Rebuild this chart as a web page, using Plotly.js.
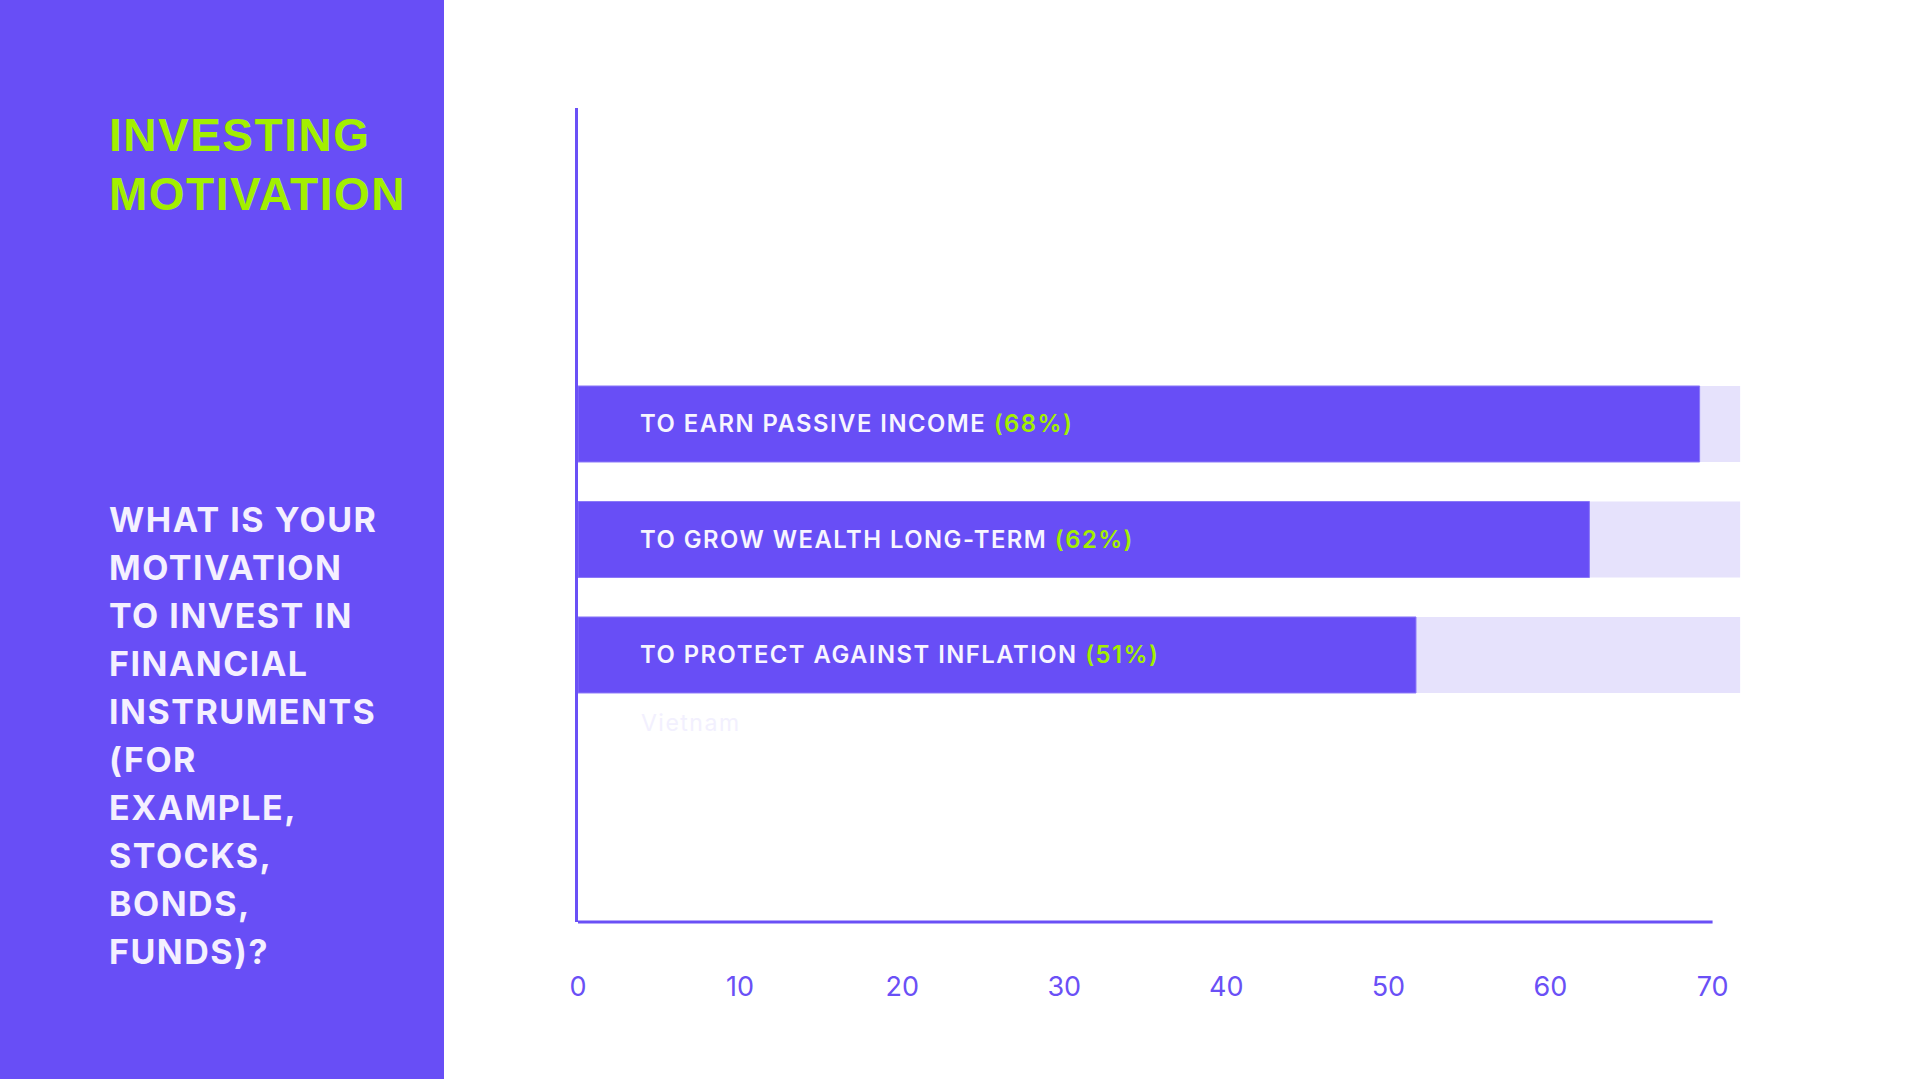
<!DOCTYPE html>
<html><head><meta charset="utf-8">
<script src="https://cdn.plot.ly/plotly-3.0.1.min.js"></script>
<style>html,body{margin:0;padding:0;background:#fff;overflow:hidden}#chart{width:1920px;height:1079px}
.annotation-text{letter-spacing:1.5px}</style>
</head><body><div id="chart"></div>
<script>
// ---- data ----
const categories = ["TO EARN PASSIVE INCOME", "TO GROW WEALTH LONG-TERM", "TO PROTECT AGAINST INFLATION"];
const percentLabels = ["68%", "62%", "51%"];
const barValues = [69.2, 62.4, 51.7];
const trackValues = [71.7, 71.7, 71.7];
const tickValues = [0, 10, 20, 30, 40, 50, 60, 70];
const tickLabels = ["0", "10", "20", "30", "40", "50", "60", "70"];
const titleLines = ["INVESTING", "MOTIVATION"];
const questionLines = ["WHAT IS YOUR", "MOTIVATION", "TO INVEST IN", "FINANCIAL", "INSTRUMENTS", "(FOR", "EXAMPLE,", "STOCKS,", "BONDS,", "FUNDS)?"];
const seriesName = "Vietnam";

// ---- style ----
const PURPLE = "#684ef6", LIGHT = "#e6e2fc", GREEN = "#a3ef00", PALE = "#f4f0ff", AXIS = "#6a50f6";
const W = 1920, H = 1079, L = 578, R = 175, T = 108, B = 157;
const PW = W - L - R, PH = H - T - B;
const xp = px => (px - L) / PW;
const yp = py => 1 - (py - T) / PH;

const traces = [
  { type: "bar", orientation: "h", y: categories, x: trackValues, width: 0.658,
    marker: { color: LIGHT }, hoverinfo: "skip", showlegend: false },
  { type: "bar", orientation: "h", y: categories, x: barValues, width: 0.658, name: seriesName,
    marker: { color: PURPLE, line: { color: "#8a78f8", width: 1 } }, hoverinfo: "skip", showlegend: false }
];

const annotations = [];
titleLines.forEach((t, i) => annotations.push({
  xref: "paper", yref: "paper", x: xp(107), y: yp(135.3 + i * 58.6), xanchor: "left", yanchor: "middle",
  text: t, showarrow: false, font: { family: "Liberation Sans, Arial, sans-serif", size: 46, color: GREEN, weight: 700 }
}));
questionLines.forEach((t, i) => annotations.push({
  xref: "paper", yref: "paper", x: xp(107), y: yp(519 + i * 48.0), xanchor: "left", yanchor: "middle",
  text: t, showarrow: false, font: { family: "Inter, Noto Sans, sans-serif", size: 34, color: PALE, weight: 700 }
}));
categories.forEach((c, i) => annotations.push({
  xref: "x", yref: "y", x: 3.69, y: c, xanchor: "left", yanchor: "middle",
  text: c + " <span style='color:" + GREEN + "'>(" + percentLabels[i] + ")</span>", showarrow: false,
  font: { family: "Inter, Noto Sans, sans-serif", size: 23.8, color: "#f7f5ff", weight: 600 }
}));
annotations.push({
  xref: "paper", yref: "paper", x: xp(639), y: yp(723), xanchor: "left", yanchor: "middle",
  text: seriesName, showarrow: false, font: { family: "Inter, Noto Sans, sans-serif", size: 23, color: "#f2f0fe" }
});

const layout = {
  width: W, height: H, margin: { l: L, r: R, t: T, b: B, pad: 0 },
  paper_bgcolor: "#ffffff", plot_bgcolor: "rgba(0,0,0,0)",
  barmode: "overlay", showlegend: false, hovermode: false,
  xaxis: { range: [0, 72], tickvals: tickValues, ticktext: tickLabels, showgrid: false, zeroline: false,
    showline: false, ticks: "", ticklabelstandoff: 46,
    tickfont: { family: "Inter, Noto Sans, sans-serif", size: 27, color: AXIS } },
  yaxis: { type: "category", categoryarray: categories, range: [4.312, -2.736], showgrid: false, zeroline: false,
    showline: true, linewidth: 3, linecolor: AXIS, showticklabels: false, ticks: "" },
  shapes: [
    { type: "rect", xref: "paper", yref: "paper", x0: xp(0), x1: xp(444), y0: yp(H), y1: yp(0),
      fillcolor: PURPLE, line: { width: 0 }, layer: "below" },
    { type: "line", xref: "x", yref: "paper", x0: 0, x1: 70, y0: 0, y1: 0, line: { color: AXIS, width: 3 } }
  ],
  annotations: annotations
};

Plotly.newPlot("chart", traces, layout, { staticPlot: true, displayModeBar: false });
</script></body></html>
